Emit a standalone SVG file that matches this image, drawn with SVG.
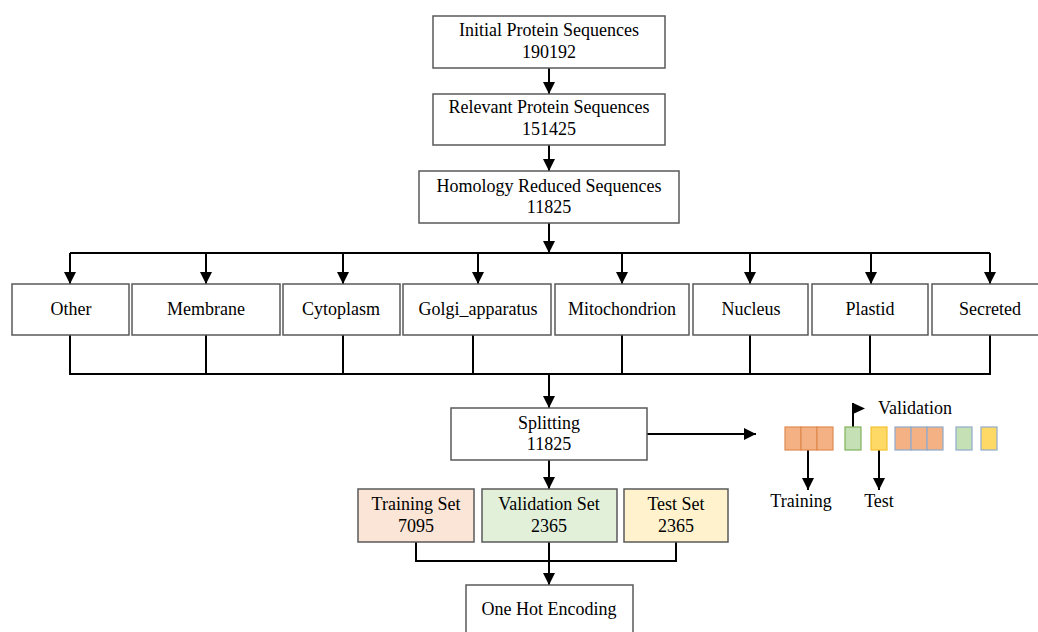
<svg xmlns="http://www.w3.org/2000/svg" width="1038" height="632" viewBox="0 0 1038 632">
<style>
.box{fill:#ffffff;stroke:#595959;stroke-width:1.5}
.t{font-family:"Liberation Serif","Times New Roman",serif;font-size:18px;fill:#000;text-anchor:middle}
.tl{font-family:"Liberation Serif","Times New Roman",serif;font-size:18px;fill:#000}
.ln{fill:none;stroke:#000;stroke-width:2}
.ar{fill:none;stroke:#000;stroke-width:2;marker-end:url(#ah)}
.co{fill:#F4B183;stroke:#E08A50;stroke-width:1.2}
.cg{fill:#C5E0B4;stroke:#7FB35A;stroke-width:1.2}
.cy{fill:#FFD966;stroke:#F2C230;stroke-width:1.2}
.bo{fill:#F4B183;stroke:#8FAACC;stroke-width:1.2}
.bg{fill:#C5E0B4;stroke:#8FAACC;stroke-width:1.2}
.by{fill:#FFD966;stroke:#8FAACC;stroke-width:1.2}
</style>
<defs>
<marker id="ah" markerUnits="userSpaceOnUse" markerWidth="12" markerHeight="12" refX="12" refY="6" orient="auto">
<path d="M0,0 L12,6 L0,12 Z" fill="#000"/>
</marker>
</defs>
<rect width="1038" height="632" fill="#ffffff"/>

<g id="connectors">
<line class="ar" x1="549" y1="68" x2="549" y2="94"/>
<line class="ar" x1="549" y1="145" x2="549" y2="171"/>
<line class="ar" x1="549" y1="223" x2="549" y2="253"/>
<line class="ln" x1="70" y1="253" x2="990" y2="253"/>
<line class="ar" x1="70" y1="253" x2="70" y2="284"/>
<line class="ar" x1="206" y1="253" x2="206" y2="284"/>
<line class="ar" x1="343" y1="253" x2="343" y2="284"/>
<line class="ar" x1="478" y1="253" x2="478" y2="284"/>
<line class="ar" x1="622" y1="253" x2="622" y2="284"/>
<line class="ar" x1="750" y1="253" x2="750" y2="284"/>
<line class="ar" x1="871" y1="253" x2="871" y2="284"/>
<line class="ar" x1="990" y1="253" x2="990" y2="284"/>
<path class="ln" d="M70,335 V374 H990 V335"/>
<line class="ln" x1="206" y1="335" x2="206" y2="374"/>
<line class="ln" x1="343" y1="335" x2="343" y2="374"/>
<line class="ln" x1="473" y1="335" x2="473" y2="374"/>
<line class="ln" x1="622" y1="335" x2="622" y2="374"/>
<line class="ln" x1="750" y1="335" x2="750" y2="374"/>
<line class="ln" x1="870" y1="335" x2="870" y2="374"/>
<line class="ar" x1="549" y1="374" x2="549" y2="408"/>
<line class="ar" x1="647" y1="434" x2="756" y2="434"/>
<line class="ar" x1="549" y1="460" x2="549" y2="489"/>
<path class="ln" d="M416,542 V561 H676 V542"/>
<line class="ar" x1="549" y1="542" x2="549" y2="585"/>
<line class="ar" x1="808" y1="450" x2="808" y2="490"/>
<line class="ar" x1="879" y1="450" x2="879" y2="490"/>
<line class="ln" x1="853" y1="427" x2="853" y2="403"/>
<path d="M853,403 L865,408.5 L853,414 Z" fill="#000"/>
</g>

<g id="initial"><rect class="box" x="433" y="16" width="232" height="52"/><text class="t" x="549" y="36">Initial Protein Sequences</text><text class="t" x="549" y="58">190192</text></g>
<g id="relevant"><rect class="box" x="433" y="94" width="232" height="51"/><text class="t" x="549" y="113">Relevant Protein Sequences</text><text class="t" x="549" y="135">151425</text></g>
<g id="homology"><rect class="box" x="419" y="171" width="260" height="52"/><text class="t" x="549" y="192">Homology Reduced Sequences</text><text class="t" x="549" y="213">11825</text></g>

<g id="other"><rect class="box" x="12" y="284" width="117" height="51"/><text class="t" x="71" y="315">Other</text></g>
<g id="membrane"><rect class="box" x="132" y="284" width="148" height="51"/><text class="t" x="206" y="315">Membrane</text></g>
<g id="cytoplasm"><rect class="box" x="283" y="284" width="117" height="51"/><text class="t" x="341" y="315">Cytoplasm</text></g>
<g id="golgi"><rect class="box" x="403" y="284" width="148" height="51"/><text class="t" x="478" y="315">Golgi_apparatus</text></g>
<g id="mitochondrion"><rect class="box" x="555" y="284" width="134" height="51"/><text class="t" x="622" y="315">Mitochondrion</text></g>
<g id="nucleus"><rect class="box" x="693" y="284" width="115" height="51"/><text class="t" x="751" y="315">Nucleus</text></g>
<g id="plastid"><rect class="box" x="812" y="284" width="116" height="51"/><text class="t" x="870" y="315">Plastid</text></g>
<g id="secreted"><rect class="box" x="932" y="284" width="120" height="51"/><text class="t" x="990" y="315">Secreted</text></g>

<g id="splitting"><rect class="box" x="451" y="408" width="196" height="52"/><text class="t" x="549" y="429">Splitting</text><text class="t" x="549" y="450">11825</text></g>

<g id="training-set"><rect class="box" x="358" y="489" width="116" height="53" style="fill:#FBE5D6"/><text class="t" x="416" y="510">Training Set</text><text class="t" x="416" y="532">7095</text></g>
<g id="validation-set"><rect class="box" x="482" y="489" width="135" height="53" style="fill:#E2F0D9"/><text class="t" x="549" y="510">Validation Set</text><text class="t" x="549" y="532">2365</text></g>
<g id="test-set"><rect class="box" x="624" y="489" width="104" height="53" style="fill:#FFF2CC"/><text class="t" x="676" y="510">Test Set</text><text class="t" x="676" y="532">2365</text></g>

<g id="one-hot"><rect class="box" x="466" y="585" width="167" height="60"/><text class="t" x="549" y="615">One Hot Encoding</text></g>

<g id="legend">
<rect class="co" x="785" y="427" width="16" height="23"/>
<rect class="co" x="801" y="427" width="16" height="23"/>
<rect class="co" x="817" y="427" width="16" height="23"/>
<rect class="cg" x="845" y="427" width="16" height="23"/>
<rect class="cy" x="871" y="427" width="16" height="23"/>
<rect class="bo" x="895" y="427" width="16" height="23"/>
<rect class="bo" x="911" y="427" width="16" height="23"/>
<rect class="bo" x="927" y="427" width="16" height="23"/>
<rect class="bg" x="956" y="427" width="16" height="23"/>
<rect class="by" x="981" y="427" width="16" height="23"/>
<text class="tl" x="878" y="414">Validation</text>
<text class="t" x="801" y="507">Training</text>
<text class="t" x="879" y="507">Test</text>
</g>
</svg>
